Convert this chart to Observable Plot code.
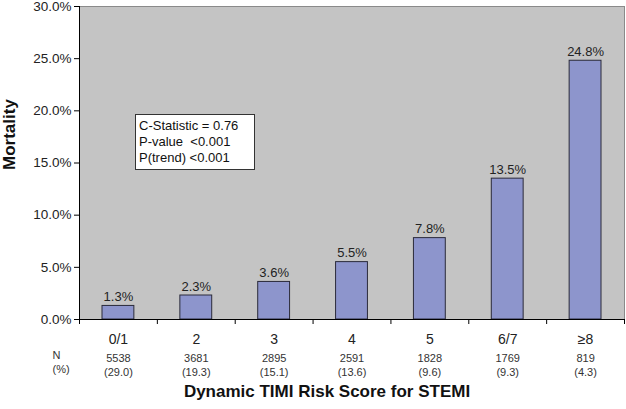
<!DOCTYPE html>
<html><head><meta charset="utf-8">
<script src="https://cdn.jsdelivr.net/npm/d3@7"></script>
<script src="https://cdn.jsdelivr.net/npm/@observablehq/plot@0.6"></script>
<style>
body{margin:0;background:#fff}
#c{position:relative;width:626px;height:409px;font-family:"Liberation Sans",Arial,sans-serif}
#box{position:absolute;left:135px;top:114px;width:115px;height:51px;border:1px solid #333;background:#fff;font-size:13px;line-height:16px;padding:3px 0 0 3px;color:#111;box-sizing:content-box}
#box div{white-space:pre}
</style></head><body><div id="c"></div>
<script>
const categories = ["0/1","2","3","4","5","6/7","≥8"];
const mortality = [1.3,2.3,3.6,5.5,7.8,13.5,24.8];
const counts = ["5538","3681","2895","2591","1828","1769","819"];
const percents = ["(29.0)","(19.3)","(15.1)","(13.6)","(9.6)","(9.3)","(4.3)"];
const yTicks = [0,5,10,15,20,25,30];
const stats = ["C-Statistic = 0.76","P-value  <0.001","P(trend) <0.001"];

const data = categories.map((c,i)=>({i, cat:c, m:mortality[i]/100, n:counts[i], p:percents[i]}));
const font = '"Liberation Sans",Arial,sans-serif';
const fmt = d3.format(".1%");

const chart = Plot.plot({
  width:626, height:409,
  marginLeft:79, marginRight:2, marginTop:6, marginBottom:90,
  style:{fontFamily:font, fontSize:"13px", color:"#222", background:"#fff", overflow:"visible"},
  x:{type:"linear", domain:[0, categories.length]},
  y:{domain:[0, 0.30]},
  marks:[
    Plot.frame({fill:"#c4c4c4", stroke:"#8a8a8a"}),
    Plot.rectY(data,{x1:"i", x2:d=>d.i+1, y:"m", insetLeft:23, insetRight:23, fill:"#8d95cc", stroke:"#2a2a3a", strokeWidth:1}),
    Plot.text(data,{x:d=>d.i+0.5, y:"m", text:d=>fmt(d.m), lineAnchor:"bottom", dy:-5, fontSize:13, fill:"#222"}),
    Plot.axisY({ticks:yTicks.map(v=>v/100), tickFormat:fmt, tickSize:5, tickPadding:3, fontSize:13.5, label:null, stroke:"#000"}),
    Plot.axisX({ticks:d3.range(categories.length+1), tickFormat:()=>"", tickSize:5, label:null, stroke:"#000"}),
    Plot.frame({anchor:"left", stroke:"#000"}),
    Plot.frame({anchor:"bottom", stroke:"#000"}),
    Plot.text(data,{x:d=>d.i+0.5, y:()=>0, text:"cat", dy:20, fontSize:14, fill:"#222"}),
    Plot.text(data,{x:d=>d.i+0.5, y:()=>0, text:"n", dy:39, fontSize:11, fill:"#333"}),
    Plot.text(data,{x:d=>d.i+0.5, y:()=>0, text:"p", dy:53, fontSize:11, fill:"#333"}),
    Plot.text(["N"],{frameAnchor:"bottom-left", dx:-27, dy:39, fontSize:11, fill:"#333"}),
    Plot.text(["(%)"],{frameAnchor:"bottom-left", dx:-27, dy:53, fontSize:11, fill:"#333"}),
    Plot.text(["Dynamic TIMI Risk Score for STEMI"],{frameAnchor:"bottom", dx:-25, dy:77, fontSize:17, fontWeight:"bold", fill:"#111"}),
    Plot.text(["Mortality"],{frameAnchor:"left", dx:-70, dy:7, rotate:-90, fontSize:17, fontWeight:"bold", fill:"#111"})
  ]
});
const c = document.getElementById("c");
c.appendChild(chart);
const box = document.createElement("div");
box.id = "box";
stats.forEach(s=>{const d=document.createElement("div"); d.textContent=s; box.appendChild(d);});
c.appendChild(box);
</script>
</body></html>
